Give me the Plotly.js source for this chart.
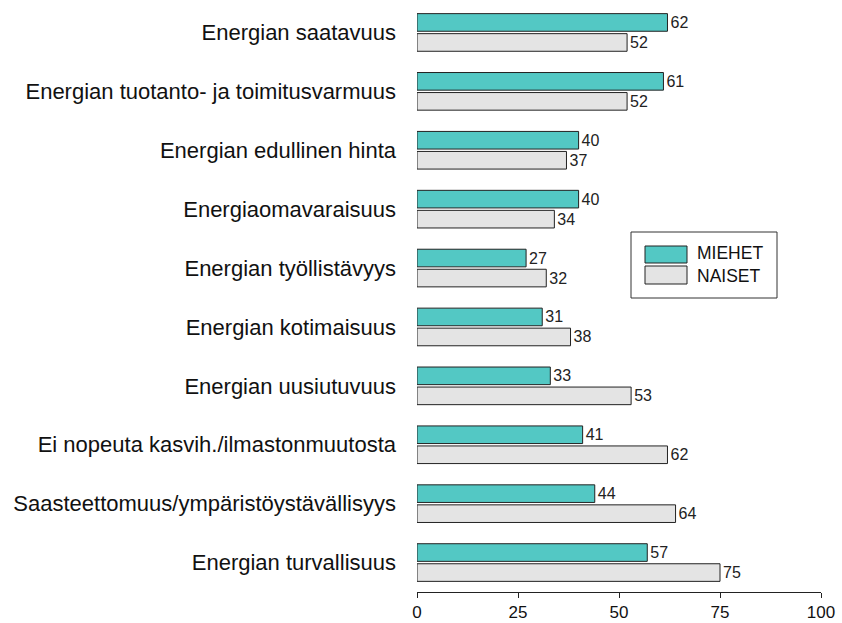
<!DOCTYPE html>
<html>
<head>
<meta charset="utf-8">
<script src="https://cdn.plot.ly/plotly-3.0.1.min.js"></script>
<style>html,body{margin:0;padding:0;background:#fff;}#chart{width:842px;height:623px;}</style>
</head>
<body>
<div id="chart"></div>
<script>
const categories = [
  "Energian saatavuus",
  "Energian tuotanto- ja toimitusvarmuus",
  "Energian edullinen hinta",
  "Energiaomavaraisuus",
  "Energian työllistävyys",
  "Energian kotimaisuus",
  "Energian uusiutuvuus",
  "Ei nopeuta kasvih./ilmastonmuutosta",
  "Saasteettomuus/ympäristöystävällisyys",
  "Energian turvallisuus"
];
const miehet = [62, 61, 40, 40, 27, 31, 33, 41, 44, 57];
const naiset = [52, 52, 37, 34, 32, 38, 53, 62, 64, 75];
const seriesNames = ["MIEHET", "NAISET"];
const seriesColors = ["#53c8c4", "#e4e4e4"];
const xTicks = [0, 25, 50, 75, 100];

const font = "Liberation Sans, Arial, sans-serif";
function mk(name, vals, color) {
  return {
    type: "bar", orientation: "h", name: name,
    y: categories, x: vals,
    marker: {color: color, line: {color: "#222", width: 1}},
    text: vals.map(String), textposition: "outside", constraintext: "none",
    textfont: {family: font, size: 16, color: "#222"},
    cliponaxis: false, hoverinfo: "x+y", showlegend: false
  };
}
const data = [mk(seriesNames[0], miehet, seriesColors[0]), mk(seriesNames[1], naiset, seriesColors[1])];

const layout = {
  width: 842, height: 623,
  margin: {l: 417, r: 21, t: 3, b: 31},
  paper_bgcolor: "#fff", plot_bgcolor: "#fff",
  font: {family: font, color: "#111"},
  barmode: "group", bargap: 0.32, bargroupgap: 0.12,
  uniformtext: {mode: false},
  xaxis: {
    range: [0, 100], tickvals: xTicks, ticktext: xTicks.map(String),
    showgrid: false, zeroline: false, showline: true, linecolor: "#222", linewidth: 1,
    ticks: "outside", ticklen: 5, tickcolor: "#222",
    tickfont: {family: font, size: 17, color: "#111"}
  },
  yaxis: {
    type: "category", range: [9.5, -0.5],
    showgrid: false, zeroline: false, showline: false, ticks: "",
    ticklabelstandoff: 20,
    tickfont: {family: font, size: 22, color: "#111"}
  },
  shapes: [
    {type: "rect", xref: "paper", yref: "paper", x0: (631-417)/404, x1: (777-417)/404, y0: 1-(232-3)/589, y1: 1-(298-3)/589, line: {color: "#333", width: 1}, fillcolor: "#fff", layer: "above"},
    {type: "rect", xref: "paper", yref: "paper", x0: (645-417)/404, x1: (687-417)/404, y0: 1-(246-3)/589, y1: 1-(263-3)/589, line: {color: "#222", width: 1}, fillcolor: seriesColors[0], layer: "above"},
    {type: "rect", xref: "paper", yref: "paper", x0: (645-417)/404, x1: (687-417)/404, y0: 1-(266-3)/589, y1: 1-(284-3)/589, line: {color: "#222", width: 1}, fillcolor: seriesColors[1], layer: "above"}
  ],
  annotations: [
    {xref: "paper", yref: "paper", x: (695-417)/404, y: 1-(253.5-3)/589, xanchor: "left", yanchor: "middle", text: seriesNames[0], showarrow: false, font: {family: font, size: 17.5, color: "#111"}},
    {xref: "paper", yref: "paper", x: (695-417)/404, y: 1-(276-3)/589, xanchor: "left", yanchor: "middle", text: seriesNames[1], showarrow: false, font: {family: font, size: 17.5, color: "#111"}}
  ]
};
Plotly.newPlot("chart", data, layout, {displayModeBar: false, staticPlot: true});
</script>
</body>
</html>
